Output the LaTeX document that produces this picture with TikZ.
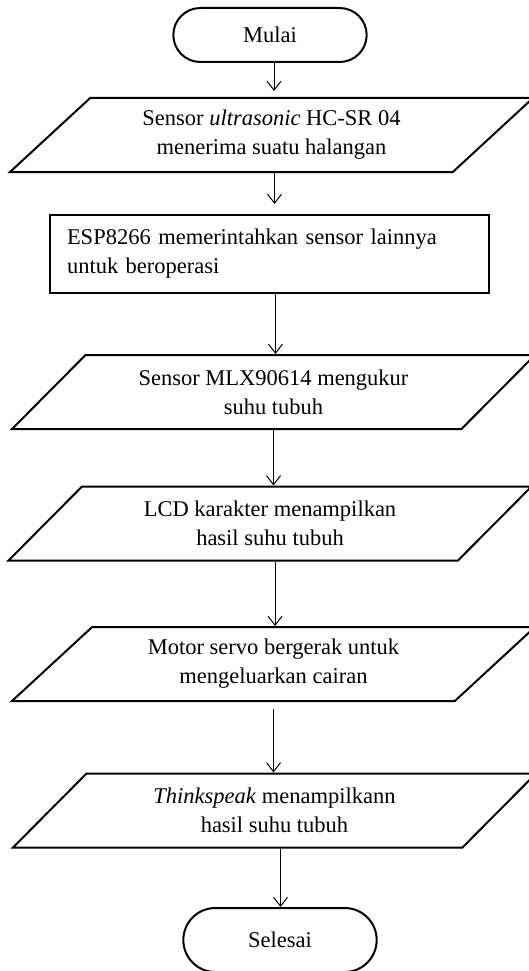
\documentclass[tikz,border=0pt]{standalone}
\usepackage{fontspec}
\setmainfont{Liberation Serif}
\usetikzlibrary{shapes.geometric,shapes.misc,arrows.meta}

\begin{document}
\begin{tikzpicture}[x=1pt,y=-1pt,
    font=\fontsize{22.5}{29}\selectfont,
    terminal/.style={draw,line width=2pt,rounded rectangle,minimum width=200pt,minimum height=54pt},
    io/.style={draw,line width=2pt,trapezium,trapezium left angle=35,trapezium right angle=145,
      trapezium stretches body,minimum width=523pt,minimum height=74pt,align=center},
    process/.style={draw,line width=2pt,rectangle,minimum width=439pt,minimum height=78pt,
      text width=405pt,align=left},
    arr/.style={-{Straight Barb[length=9pt,width=14pt]},line width=1pt}]
    \useasboundingbox (0,0) rectangle (528,971);
    \node[terminal] (mulai) at (270,35) {Mulai};
    \node[io] (ultra) at (271.5,135) {Sensor \textit{ultrasonic} HC-SR 04\\menerima suatu halangan};
    \node[process] (esp) at (269.5,254) {ESP8266 memerintahkan sensor lainnya\\untuk beroperasi};
    \node[io] (mlx) at (273.5,392) {Sensor MLX90614 mengukur\\suhu tubuh};
    \node[io] (lcd) at (270,523.5) {LCD karakter menampilkan\\hasil suhu tubuh};
    \node[io] (servo) at (273.5,664) {Motor servo bergerak untuk\\mengeluarkan cairan};
    \node[io] (thing) at (274.5,810.5) {\textit{Thinkspeak} menampilkann\\hasil suhu tubuh};
    \node[terminal,minimum height=64pt] (selesai) at (280,940) {Selesai};
    % arrows
    \draw[arr,shorten >=6pt] ([xshift=4pt]mulai.south) -- ([xshift=4pt]mulai.south |- ultra.north);
    \draw[arr,shorten >=10pt] ([xshift=3pt]ultra.south) -- ([xshift=3pt]ultra.south |- esp.north);
    \draw[arr] ([xshift=6pt]esp.south) -- ([xshift=6pt]esp.south |- mlx.north);
    \draw[arr] (mlx.south) -- (mlx.south |- lcd.north);
    \draw[arr] ([xshift=5pt]lcd.south) -- ([xshift=5pt]lcd.south |- servo.north);
    \draw[arr] ([yshift=-7pt]servo.south) -- (servo.south |- thing.north);
    \draw[arr] ([xshift=6pt]thing.south) -- ([xshift=6pt]thing.south |- selesai.north);
\end{tikzpicture}
\end{document}
